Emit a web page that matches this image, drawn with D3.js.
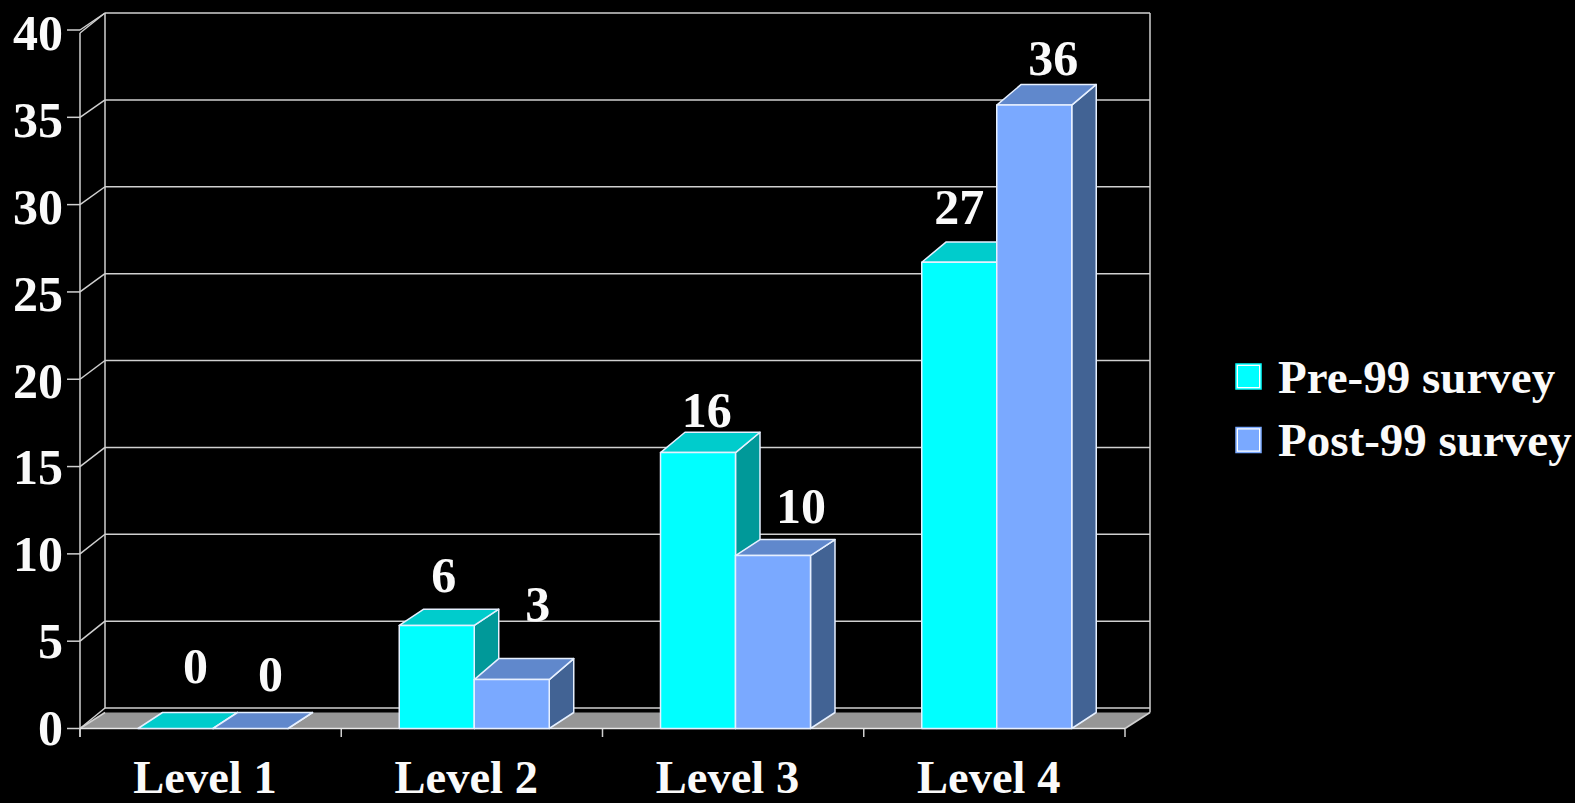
<!DOCTYPE html>
<html>
<head>
<meta charset="utf-8">
<script src="https://d3js.org/d3.v7.min.js"></script>
<style>
	html, body { margin: 0; padding: 0; background: #000; overflow: hidden; }
	text { font-family: "Liberation Serif", serif; font-weight: bold; fill: #fafafa; }
</style>
</head>
<body>
<svg id="chart" width="1575" height="803"></svg>
<script>
var levels = ['Level 1', 'Level 2', 'Level 3', 'Level 4'];
var seriesNames = ['Pre-99 survey', 'Post-99 survey'];
var pre99 = [0, 5.9, 15.8, 26.7];
var post99 = [0, 2.8, 9.9, 35.7];
var yTicks = [0, 5, 10, 15, 20, 25, 30, 35, 40];

var svg = d3.select('#chart');
var depthX = 24.5, floorDepth = 16;
var frontColor = ['#00ffff', '#7aa9ff'],
	topColor = ['#00cccc', '#6088cc'],
	sideColor = ['#009999', '#426394'];

var x = d3.scaleBand().domain(levels).range([80, 1125]);
var inner = d3.scaleBand().domain([0, 1]).range([58, 208]);
var y = d3.scaleLinear().domain([0, 40]).range([728.5, 30]);
var yBack = d3.scaleLinear().domain([0, 40]).range([708, 13]);
var yLabel = d3.scaleLinear().domain([0, 40]).range([745, 50]);

// floor
svg.append('polygon')
	.attr('points', [[80, 728.5], [1125, 728.5], [1150, 712.5], [105, 712.5]].join(' '))
	.attr('fill', '#969696');

// walls and grid
var grid = svg.append('g').attr('stroke', '#d0d0d0').attr('stroke-width', 1.5).attr('fill', 'none');
grid.selectAll('.back').data(yTicks).enter().append('line')
	.attr('x1', 105).attr('x2', 1150)
	.attr('y1', function(d) { return yBack(d); })
	.attr('y2', function(d) { return yBack(d); });
grid.selectAll('.side').data(yTicks).enter().append('line')
	.attr('x1', 80).attr('x2', 105)
	.attr('y1', function(d) { return y(d); })
	.attr('y2', function(d) { return yBack(d); });
grid.selectAll('.tick').data(yTicks).enter().append('line')
	.attr('x1', 67).attr('x2', 80)
	.attr('y1', function(d) { return y(d); })
	.attr('y2', function(d) { return y(d); });
grid.append('line').attr('x1', 105).attr('x2', 105).attr('y1', yBack(40)).attr('y2', yBack(0));
grid.append('line').attr('x1', 1150).attr('x2', 1150).attr('y1', yBack(40)).attr('y2', 712.5);
grid.append('line').attr('x1', 80).attr('x2', 80).attr('y1', 33).attr('y2', 737);
grid.append('line').attr('x1', 80).attr('x2', 105).attr('y1', 33).attr('y2', yBack(40));
grid.append('line').attr('x1', 80).attr('x2', 105).attr('y1', y(0)).attr('y2', 712.5);
grid.append('line').attr('x1', 1125).attr('x2', 1150).attr('y1', y(0)).attr('y2', 712.5);

// category ticks
grid.selectAll('.xtick').data(d3.range(levels.length + 1)).enter().append('line')
	.attr('x1', function(i) { return 80 + i * x.step(); })
	.attr('x2', function(i) { return 80 + i * x.step(); })
	.attr('y1', y(0)).attr('y2', 737);

// front edge of the floor
svg.append('line').attr('x1', 80).attr('x2', 1125).attr('y1', y(0)).attr('y2', y(0))
	.attr('stroke', '#e8e8e8').attr('stroke-width', 1.5);

// the top faces are not all equally deep in the picture
var topDepth = [[16, 16], [16.3, 21], [20.3, 16], [20.3, 20.7]];

function drawBar(i, s, value) {
	var x0 = x(levels[i]) + inner(s), x1 = x0 + inner.bandwidth(), top = y(value), base = y(0);
	var d = topDepth[i][s];
	var g = svg.append('g').attr('stroke', '#e6f0ff').attr('stroke-width', 1.5).attr('stroke-linejoin', 'round');
	g.append('polygon')
		.attr('points', [[x1, base], [x1 + depthX, base - floorDepth], [x1 + depthX, top - d], [x1, top]].join(' '))
		.attr('fill', sideColor[s]);
	g.append('polygon')
		.attr('points', [[x0, top], [x0 + depthX, top - d], [x1 + depthX, top - d], [x1, top]].join(' '))
		.attr('fill', topColor[s]);
	if (value > 0) {
		g.append('rect')
			.attr('x', x0).attr('y', top)
			.attr('width', x1 - x0).attr('height', base - top)
			.attr('fill', frontColor[s]);
	}
}
levels.forEach(function(level, i) {
	drawBar(i, 0, pre99[i]);
	drawBar(i, 1, post99[i]);
});

// value labels sit where they were dragged by hand, so each has its own nudge
var labelNudge = [
	[[20, -45.5], [20, -37.5]],
	[[7, -33.6], [26, -59]],
	[[8.7, -25.7], [28, -32.3]],
	[[0, -38.7], [19, -30.1]]
];
levels.forEach(function(level, i) {
	[pre99[i], post99[i]].forEach(function(value, s) {
		svg.append('text')
			.attr('x', x(level) + inner(s) + inner.bandwidth() / 2 + labelNudge[i][s][0])
			.attr('y', y(value) + labelNudge[i][s][1])
			.attr('text-anchor', 'middle')
			.attr('font-size', 50)
			.text(d3.format('.0f')(value));
	});
});

// axis labels
svg.selectAll('.ylabel').data(yTicks).enter().append('text')
	.attr('x', 63)
	.attr('y', function(d) { return yLabel(d); })
	.attr('text-anchor', 'end')
	.attr('font-size', 50)
	.text(function(d) { return d; });
svg.selectAll('.xlabel').data(levels).enter().append('text')
	.attr('x', function(d) { return x(d) + 125; })
	.attr('y', 792.9)
	.attr('text-anchor', 'middle')
	.attr('font-size', 46.5)
	.text(function(d) { return d; });

// legend
var legend = svg.selectAll('.legend').data(seriesNames).enter().append('g')
	.attr('transform', function(d, i) { return 'translate(1236,' + (364 + i * 63.5) + ')'; });
legend.append('rect')
	.attr('x', 1).attr('y', 1).attr('width', 23).attr('height', 23)
	.attr('fill', function(d, i) { return frontColor[i]; })
	.attr('stroke', '#fff').attr('stroke-width', 2);
legend.append('rect')
	.attr('x', 0).attr('y', 0).attr('width', 25).attr('height', 25)
	.attr('fill', 'none')
	.attr('stroke', function(d, i) { return frontColor[i]; }).attr('stroke-width', 1.5);
legend.append('text')
	.attr('x', 42).attr('y', 28.6)
	.attr('font-size', 47)
	.text(function(d) { return d; });
</script>
</body>
</html>
